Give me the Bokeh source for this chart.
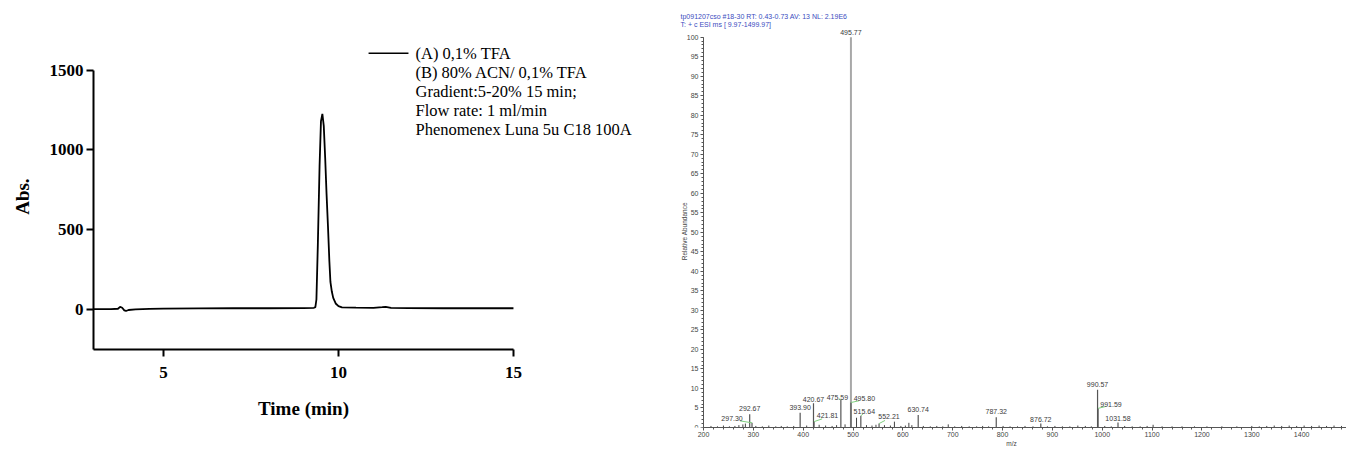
import math
from bokeh.plotting import figure
from bokeh.layouts import row
from bokeh.models import Range1d, FixedTicker, Label, LabelSet, ColumnDataSource, SingleIntervalTicker, Arrow
from bokeh.core.properties import value
from bokeh.embed import file_html
from bokeh.resources import INLINE

# ---------------- HPLC chromatogram data ----------------
time_min = [3.0, 3.5, 3.70, 3.76, 3.82, 3.88, 3.93, 4.0, 4.2, 4.6, 5.0, 6.0, 7.0, 8.0, 9.0,
            9.30, 9.34, 9.37, 9.41, 9.46, 9.50, 9.54, 9.58, 9.62, 9.66, 9.70, 9.74, 9.77,
            9.81, 9.85, 9.92, 10.0, 10.1, 10.5, 11.0, 11.25, 11.35, 11.5, 12.0, 13.0, 14.0, 15.0]
absorbance = [0, 0, 2, 14, 8, -8, -12, -6, -2, 1, 3, 4, 5, 5, 6,
              8, 12, 60, 400, 900, 1180, 1225, 1150, 950, 720, 520, 300, 170,
              110, 70, 35, 18, 10, 9, 8, 12, 14, 7, 6, 5, 5, 5]
hplc_x_ticks = [5, 10, 15]
hplc_y_ticks = [0, 500, 1000, 1500]
hplc_x_bounds = (3, 15)
hplc_y_bounds = (-256, 1500)
legend_lines = ["(A) 0,1% TFA", "(B) 80% ACN/ 0,1% TFA", "Gradient:5-20% 15 min;",
                "Flow rate: 1 ml/min", "Phenomenex Luna 5u C18 100A"]

# ---------------- Mass spectrum data ----------------
ms_header = ["tp091207cso #18-30  RT: 0.43-0.73  AV: 13  NL: 2.19E6",
             "T: + c ESI ms [ 9.97-1499.97]"]
peak_mz = [292.67, 297.30, 393.90, 420.67, 421.81, 475.59, 495.77, 495.80, 515.64,
           552.21, 630.74, 787.32, 876.72, 990.57, 991.59, 1031.58]
peak_rel = [3.4, 1.2, 3.8, 6.2, 1.5, 7.1, 100.0, 6.4, 3.0,
            1.0, 3.2, 2.6, 1.0, 9.7, 4.9, 1.3]
peak_text = ["292.67", "297.30", "393.90", "420.67", "421.81", "475.59", "495.77", "495.80", "515.64",
             "552.21", "630.74", "787.32", "876.72", "990.57", "991.59", "1031.58"]
# label offsets (layout only): m/z shift, % shift
label_dx = [0, -40, 0, 0, 27, -7, 0, 27, 7, 20, 0, 0, 0, 0, 26, 0]
label_dy = [1.4, 1.1, 1.4, 1.0, 1.6, 0.6, 1.3, 1.0, 1.0, 1.8, 1.5, 1.4, 1.0, 1.2, 1.1, 0.9]
label_link = [False, True, False, False, True, True, False, True, True, True,
              False, False, False, False, True, False]

minor_mz = [215, 228, 240, 252, 263, 271, 279, 284, 305, 318, 331, 345, 356, 368, 381, 407,
            432, 445, 458, 467, 484, 507, 527, 538, 546, 563, 575, 583, 596, 605, 612, 618,
            641, 655, 668, 680, 691, 704, 718, 733, 748, 760, 772, 801, 815, 830, 845, 861,
            890, 905, 920, 935, 951, 966, 978, 1005, 1018, 1045, 1060, 1076, 1090, 1102,
            1120, 1140, 1160, 1185, 1210, 1240, 1270, 1300, 1315, 1330, 1345, 1360, 1375,
            1390, 1405, 1420, 1435, 1450, 1465, 1480]
minor_rel = [0.4, 0.3, 0.5, 0.3, 0.4, 0.6, 0.8, 1.0, 0.4, 0.3, 0.5, 0.3, 0.4, 0.3, 0.4, 0.5,
             0.7, 0.5, 0.4, 0.6, 0.8, 2.5, 0.6, 0.5, 0.7, 0.6, 0.5, 1.5, 0.4, 0.5, 1.2, 0.6,
             0.4, 0.3, 0.4, 0.3, 0.8, 0.3, 0.4, 0.3, 0.3, 0.4, 0.3, 0.4, 0.3, 0.3, 0.4, 0.3,
             0.3, 0.4, 0.3, 0.3, 0.5, 0.4, 0.3, 0.4, 0.3, 0.4, 0.3, 0.3, 0.4, 0.7,
             0.3, 0.3, 0.3, 0.3, 0.3, 0.3, 0.3, 0.4, 0.3, 0.4, 0.5, 0.4, 0.5,
             0.4, 0.5, 0.4, 0.5, 0.4, 0.5, 0.4]
ms_x_ticks = [200, 300, 400, 500, 600, 700, 800, 900, 1000, 1100, 1200, 1300, 1400]
ms_x_bounds = (200, 1490)
ms_y_bounds = (0, 100)

SERIF = "Liberation Serif"
SANS = "Liberation Sans"

# ---------------- Left figure: HPLC ----------------
p1 = figure(width=668, height=449, x_range=Range1d(0.343, 19.43), y_range=Range1d(-743.75, 1937.5),
            output_backend="svg", toolbar_location=None,
            min_border_left=0, min_border_right=0, min_border_top=0, min_border_bottom=20)
p1.line(time_min, absorbance, line_color="black", line_width=1.8)
p1.grid.visible = False
p1.outline_line_color = None
for ax in (p1.xaxis[0], p1.yaxis[0]):
    ax.axis_line_width = 2
    ax.major_tick_line_width = 2
    ax.major_tick_out = 7
    ax.major_tick_in = 0
    ax.minor_tick_line_color = None
    ax.major_label_text_font = SERIF
    ax.major_label_text_font_style = "bold"
    ax.major_label_text_font_size = "17px"
    ax.major_label_text_color = "black"
    ax.axis_label_text_font = SERIF
    ax.axis_label_text_font_style = "bold"
    ax.axis_label_text_font_size = "19px"
    ax.axis_label_text_color = "black"
p1.xaxis.ticker = FixedTicker(ticks=hplc_x_ticks)
p1.yaxis.ticker = FixedTicker(ticks=hplc_y_ticks)
p1.xaxis.bounds = hplc_x_bounds
p1.yaxis.bounds = hplc_y_bounds
p1.xaxis.fixed_location = hplc_y_bounds[0]
p1.yaxis.fixed_location = hplc_x_bounds[0]
p1.xaxis.axis_label = "Time (min)"
p1.xaxis.major_label_standoff = 10
p1.yaxis.major_label_standoff = 3
p1.xaxis.axis_label_standoff = 17
p1.add_layout(Label(x=0.971, y=706, text="Abs.", angle=math.pi / 2, text_font=SERIF,
                    text_font_style="bold", text_font_size="19px", text_align="center",
                    text_baseline="middle", text_color="black"))

# legend-like annotation (top right)
p1.add_layout(Arrow(x_start=10.86, y_start=1606, x_end=12.0, y_end=1606, end=None,
                    line_color="black", line_width=1.5))
leg_y = [1606, 1488, 1363, 1244, 1125]
for txt, yy in zip(legend_lines, leg_y):
    p1.add_layout(Label(x=12.2, y=yy, text=txt, text_font=SERIF, text_font_size="16.5px",
                        text_baseline="middle", text_color="black"))

# ---------------- Right figure: MS ----------------
p2 = figure(width=678, height=449, x_range=Range1d(145.83, 1490), y_range=Range1d(0, 109.4),
            output_backend="svg", toolbar_location=None,
            min_border_left=8, min_border_right=0, min_border_top=0, min_border_bottom=20)
p2.grid.visible = False
p2.outline_line_color = None

p2.segment(x0=minor_mz, y0=[0] * len(minor_mz), x1=minor_mz, y1=minor_rel,
           line_color="#444444", line_width=1)
main_idx = [i for i, h in enumerate(peak_rel) if h >= 50]
other_idx = [i for i, h in enumerate(peak_rel) if h < 50]
p2.segment(x0=[peak_mz[i] for i in main_idx], y0=[0] * len(main_idx),
           x1=[peak_mz[i] for i in main_idx], y1=[peak_rel[i] for i in main_idx],
           line_color="#a8a8a8", line_width=2)
p2.segment(x0=[peak_mz[i] for i in other_idx], y0=[0] * len(other_idx),
           x1=[peak_mz[i] for i in other_idx], y1=[peak_rel[i] for i in other_idx],
           line_color="#555555", line_width=1.2)

# green connectors for displaced labels
lk = [i for i in range(len(peak_mz)) if label_link[i]]
p2.segment(x0=[peak_mz[i] for i in lk], y0=[peak_rel[i] for i in lk],
           x1=[peak_mz[i] + label_dx[i] * 0.6 for i in lk],
           y1=[peak_rel[i] + label_dy[i] * 0.45 for i in lk],
           line_color="#7fcf7f", line_width=1)

lab_src = ColumnDataSource(dict(
    x=[m + d for m, d in zip(peak_mz, label_dx)],
    y=[h + d for h, d in zip(peak_rel, label_dy)],
    t=peak_text))
p2.add_layout(LabelSet(x="x", y="y", text="t", source=lab_src, text_font=value(SANS),
                       text_font_size="7px", text_align="center", text_baseline="middle",
                       text_color="#3a3a3a"))

xa = p2.xaxis[0]
ya = p2.yaxis[0]
for ax in (xa, ya):
    ax.axis_line_color = "#555555"
    ax.axis_line_width = 1
    ax.major_tick_line_color = "#555555"
    ax.minor_tick_line_color = "#555555"
    ax.major_tick_out = 3
    ax.major_tick_in = 0
    ax.minor_tick_out = 2
    ax.minor_tick_in = 0
    ax.major_label_text_font = SANS
    ax.major_label_text_font_size = "7px"
    ax.major_label_text_color = "#444444"
    ax.major_label_standoff = 2
    ax.axis_label_text_font = SANS
    ax.axis_label_text_font_size = "6.5px"
    ax.axis_label_text_font_style = "normal"
    ax.axis_label_text_color = "#444444"
xa.ticker = FixedTicker(ticks=ms_x_ticks,
                        minor_ticks=[200 + 20 * k for k in range(65)])
ya.ticker = SingleIntervalTicker(interval=5, num_minor_ticks=5)
xa.bounds = ms_x_bounds
ya.bounds = ms_y_bounds
ya.fixed_location = ms_x_bounds[0]
xa.axis_label = "m/z"
xa.axis_label_standoff = 0
xa.major_label_standoff = 1

p2.add_layout(Label(x=161.9, y=50.3, text="Relative Abundance", angle=math.pi / 2,
                    text_font=SANS, text_font_size="6.5px", text_align="center",
                    text_baseline="middle", text_color="#444444"))

hdr_y = [105.4, 103.3]
for txt, yy in zip(ms_header, hdr_y):
    p2.add_layout(Label(x=153.9, y=yy, text=txt, text_font=SANS, text_font_size="7px",
                        text_baseline="middle", text_color="#3b4cc0"))

layout = row(p1, p2, spacing=0)
open("out.html", "w").write(file_html(layout, INLINE))
